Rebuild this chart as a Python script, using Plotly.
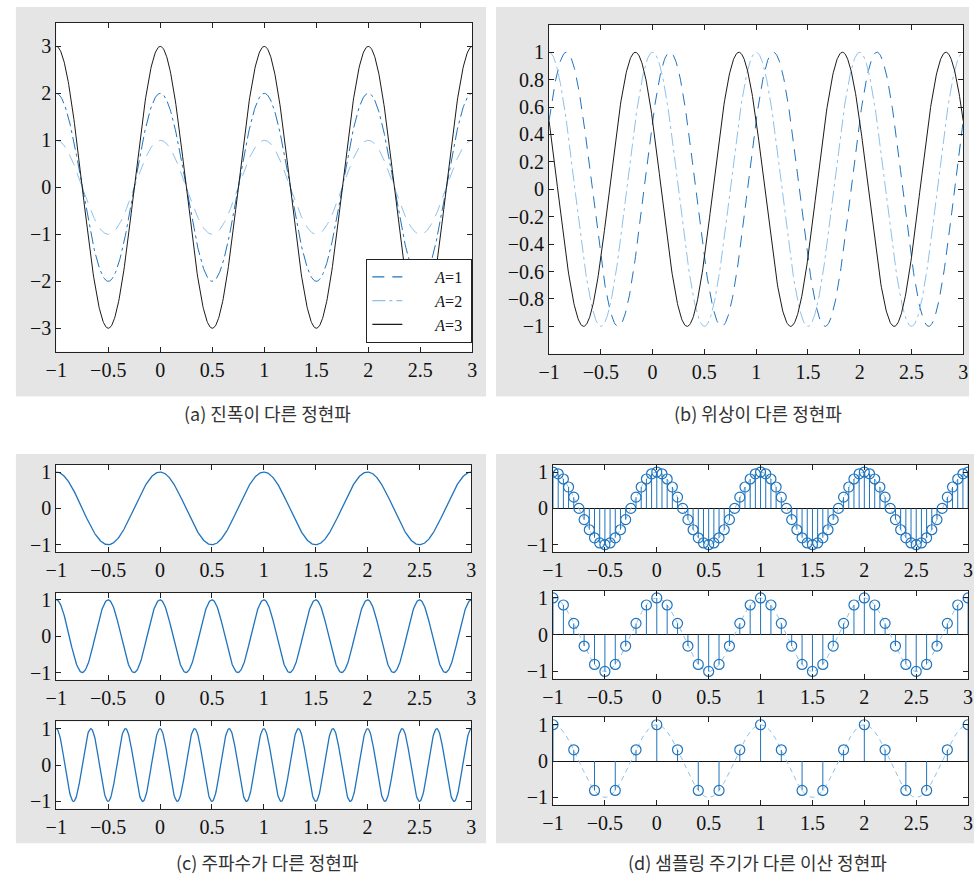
import numpy as np
import plotly.graph_objects as go

# ---------------- data / parameters ----------------
t_start, t_end = -1.0, 3.0
amplitudes = [1, 2, 3]                       # panel (a)
amp_labels = ["<i>A</i>=1", "<i>A</i>=2", "<i>A</i>=3"]
phases = [-np.pi / 3, 0.0, np.pi / 3]        # panel (b)
frequencies = [1, 2, 3]                      # panel (c)
sampling_periods = [0.05, 0.1, 0.2]          # panel (d)
base_freq = 1

x_ticks = [-1, -0.5, 0, 0.5, 1, 1.5, 2, 2.5, 3]
x_tick_text = ["−1", "−0.5", "0", "0.5", "1", "1.5", "2", "2.5", "3"]
ya_ticks = [-3, -2, -1, 0, 1, 2, 3]
ya_tick_text = ["−3", "−2", "−1", "0", "1", "2", "3"]
yb_ticks = [-1, -0.8, -0.6, -0.4, -0.2, 0, 0.2, 0.4, 0.6, 0.8, 1]
yb_tick_text = ["−1", "−0.8", "−0.6", "−0.4", "−0.2", "0", "0.2", "0.4", "0.6", "0.8", "1"]
ys_ticks = [-1, 0, 1]
ys_tick_text = ["−1", "0", "1"]

captions = ["(a) 진폭이 다른 정현파", "(b) 위상이 다른 정현파",
            "(c) 주파수가 다른 정현파", "(d) 샘플링 주기가 다른 이산 정현파"]

# ---------------- styles ----------------
W, H = 980, 881
DARK = "#1f74bd"
LIGHT = "#8ec0e8"
BLACK = "#1a1a1a"
GRAY_BG = "#e5e5e5"
DASH = "12px,8px"
DASHDOT = "13px,4px,3px,4px"
TICKFONT = dict(family="Liberation Serif", size=20, color="#111")

t = np.linspace(t_start, t_end, 801)


def dx(x0, x1):
    return [x0 / W, x1 / W]


def dy(y0, y1):
    return [1 - y1 / H, 1 - y0 / H]


fig = go.Figure()

# subplot domains (pixels)
subplots = {
    "a": ((46, 469), (19, 351)),
    "b": ((547, 968), (21, 353)),
    "c1": ((46, 468), (465, 553)),
    "c2": ((46, 468), (594, 682)),
    "c3": ((46, 468), (724, 812)),
    "d1": ((551, 973), (465, 553)),
    "d2": ((551, 973), (592, 681)),
    "d3": ((551, 973), (720, 808)),
}
names = list(subplots.keys())
axis_id = {n: ("" if i == 0 else str(i + 1)) for i, n in enumerate(names)}

shapes = []
# grey panel backgrounds
for (x0, x1, y0, y1) in [(5, 483, 3, 396), (493, 974, 3, 396),
                         (5, 483, 454, 847), (493, 979, 454, 847)]:
    shapes.append(dict(type="rect", xref="paper", yref="paper",
                       x0=x0 / W, x1=x1 / W, y0=1 - y1 / H, y1=1 - y0 / H,
                       fillcolor=GRAY_BG, line=dict(width=0), layer="below"))
# white plot areas
for n in names:
    (x0, x1), (y0, y1) = subplots[n]
    shapes.append(dict(type="rect", xref="paper", yref="paper",
                       x0=x0 / W, x1=x1 / W, y0=1 - y1 / H, y1=1 - y0 / H,
                       fillcolor="white", line=dict(width=0), layer="below"))

layout_axes = {}
for n in names:
    (x0, x1), (y0, y1) = subplots[n]
    i = axis_id[n]
    common = dict(showline=True, linecolor="#222", linewidth=1, mirror="ticks",
                  ticks="inside", ticklen=5, tickcolor="#222", showgrid=False,
                  zeroline=False, tickfont=TICKFONT)
    layout_axes["xaxis" + i] = dict(common, domain=dx(x0, x1), anchor="y" + i,
                                    range=[t_start, t_end], tickvals=x_ticks,
                                    ticktext=x_tick_text)
    if n == "a":
        yr, yt, ytt = [-3.5, 3.5], ya_ticks, ya_tick_text
    elif n == "b":
        yr, yt, ytt = [-1.2, 1.2], yb_ticks, yb_tick_text
    else:
        yr, yt, ytt = [-1.2, 1.2], ys_ticks, ys_tick_text
    yax = dict(common, domain=dy(y0, y1), anchor="x" + i, range=yr,
               tickvals=yt, ticktext=ytt)
    if n.startswith("d"):
        yax.update(zeroline=True, zerolinecolor="#111", zerolinewidth=1)
    layout_axes["yaxis" + i] = yax


def ax(n):
    i = axis_id[n]
    return dict(xaxis="x" + i, yaxis="y" + i)


# ---------------- panel (a) ----------------
a_styles = [(LIGHT, DASH), (DARK, DASHDOT), (BLACK, "solid")]
for A, (col, dash) in zip(amplitudes, a_styles):
    fig.add_trace(go.Scatter(x=t, y=A * np.cos(2 * np.pi * base_freq * t), mode="lines",
                             line=dict(color=col, width=1, dash=dash),
                             showlegend=False, hoverinfo="skip", **ax("a")))
# legend entries (as in the original legend)
leg_styles = [(DARK, DASH), (LIGHT, DASHDOT), (BLACK, "solid")]
for lab, (col, dash) in zip(amp_labels, leg_styles):
    fig.add_trace(go.Scatter(x=[None], y=[None], mode="lines",
                             name="&nbsp;&nbsp;&nbsp;&nbsp;&nbsp;&nbsp;&nbsp;" + lab + "&nbsp;",
                             line=dict(color=col, width=1.2, dash=dash),
                             showlegend=True, **ax("a")))

# ---------------- panel (b) ----------------
b_styles = [(DARK, DASH), (LIGHT, DASHDOT), (BLACK, "solid")]
for ph, (col, dash) in zip(phases, b_styles):
    fig.add_trace(go.Scatter(x=t, y=np.cos(2 * np.pi * base_freq * t + ph), mode="lines",
                             line=dict(color=col, width=1, dash=dash),
                             showlegend=False, hoverinfo="skip", **ax("b")))

# ---------------- panel (c) ----------------
for f, n in zip(frequencies, ["c1", "c2", "c3"]):
    fig.add_trace(go.Scatter(x=t, y=np.cos(2 * np.pi * f * t), mode="lines",
                             line=dict(color=DARK, width=1.3),
                             showlegend=False, hoverinfo="skip", **ax(n)))

# ---------------- panel (d) ----------------
for Ts, n in zip(sampling_periods, ["d1", "d2", "d3"]):
    fig.add_trace(go.Scatter(x=t, y=np.cos(2 * np.pi * base_freq * t), mode="lines",
                             line=dict(color=LIGHT, width=1, dash="5px,4px"),
                             showlegend=False, hoverinfo="skip", **ax(n)))
    nsamp = int(round((t_end - t_start) / Ts)) + 1
    ts = t_start + Ts * np.arange(nsamp)
    xs = np.cos(2 * np.pi * base_freq * ts)
    sx, sy = [], []
    for a, b in zip(ts, xs):
        sx += [a, a, None]
        sy += [0, b, None]
    fig.add_trace(go.Scatter(x=sx, y=sy, mode="lines",
                             line=dict(color=DARK, width=1),
                             showlegend=False, hoverinfo="skip", **ax(n)))
    fig.add_trace(go.Scatter(x=ts, y=xs, mode="markers",
                             marker=dict(symbol="circle-open", size=10, color=DARK,
                                         line=dict(width=1.2, color=DARK)),
                             showlegend=False, hoverinfo="skip", **ax(n)))

# ---------------- captions ----------------
annotations = []
for cap, (cx, cy) in zip(captions, [(261, 413), (759, 413), (261, 866), (759, 866)]):
    annotations.append(dict(text=cap, xref="paper", yref="paper", x=cx / W, y=1 - cy / H,
                            xanchor="center", yanchor="middle", showarrow=False,
                            font=dict(family="Noto Sans CJK KR", size=18, color="#333")))

fig.update_layout(
    width=W, height=H, margin=dict(l=0, r=0, t=0, b=0),
    paper_bgcolor="white", plot_bgcolor="rgba(0,0,0,0)",
    shapes=shapes, annotations=annotations,
    legend=dict(x=469 / W, xanchor="right", y=1 - 342 / H, yanchor="bottom",
                bgcolor="white", bordercolor="#222", borderwidth=1,
                font=dict(family="Liberation Serif", size=16, color="#111"),
                tracegroupgap=0, itemwidth=30),
    **layout_axes,
)

fig.write_html("out.html")
